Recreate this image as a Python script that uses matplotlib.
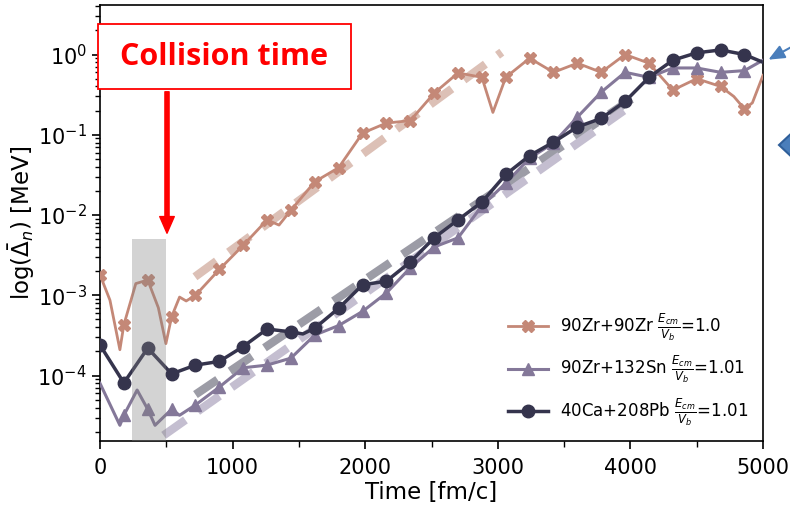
import matplotlib.pyplot as plt
import numpy as np
from matplotlib.patches import Rectangle, Polygon, FancyArrowPatch

# ---- data ----
# 90Zr+90Zr
t_zrzr = [0, 75, 150, 180, 270, 360, 440, 497, 540, 600, 650, 720, 900, 1080, 1260,
          1350, 1440, 1620, 1800, 1980, 2160, 2340, 2520, 2700, 2880, 2963, 3060, 3240,
          3420, 3600, 3780, 3960, 4140, 4320, 4500, 4680, 4780, 4860, 4920, 5000]
v_zrzr = [1.8e-3, 8.7e-4, 2.1e-4, 4.3e-4, 1.4e-3, 1.55e-3, 7e-4, 2.5e-4, 5.4e-4, 9.5e-4,
          8.5e-4, 1.0e-3, 2.1e-3, 4.2e-3, 8.7e-3, 7.5e-3, 1.15e-2, 2.6e-2, 3.9e-2, 0.105,
          0.14, 0.15, 0.33, 0.59, 0.52, 0.19, 0.52, 0.9, 0.6, 0.78, 0.6, 1.0, 0.78, 0.36,
          0.5, 0.4, 0.3, 0.21, 0.25, 0.55]
m_zrzr = [0, 3, 5, 8, 11, 12, 13, 14, 16, 17, 18, 19, 20, 21, 22, 23, 24, 26, 27, 28,
          29, 30, 31, 32, 33, 34, 35, 37]

# 90Zr+132Sn
t_zrsn = [0, 150, 180, 280, 360, 415, 540, 600, 720, 900, 1080, 1260, 1440, 1620, 1800,
          1980, 2160, 2340, 2520, 2700, 2880, 3060, 3240, 3420, 3600, 3780, 3960, 4140,
          4320, 4500, 4680, 4860, 5000]
v_zrsn = [8e-5, 2.4e-5, 3.2e-5, 6.6e-5, 3.8e-5, 2.4e-5, 3.8e-5, 3.2e-5, 4.3e-5, 7.2e-5,
          1.25e-4, 1.35e-4, 1.65e-4, 3.2e-4, 4.2e-4, 6.3e-4, 1.07e-3, 2.2e-3, 4.0e-3,
          5.2e-3, 1.3e-2, 2.5e-2, 5.1e-2, 7.9e-2, 0.166, 0.34, 0.6, 0.52, 0.68, 0.68,
          0.6, 0.63, 0.85]
m_zrsn = [2, 4, 6] + list(range(8, 32))

# 40Ca+208Pb
t_capb = [0, 180, 360, 540, 720, 900, 1080, 1260, 1440, 1530, 1620, 1800, 1980, 2160,
          2340, 2520, 2700, 2880, 3060, 3240, 3420, 3600, 3780, 3960, 4140, 4320, 4500,
          4680, 4860, 5000]
v_capb = [2.4e-4, 8.1e-5, 2.2e-4, 1.05e-4, 1.35e-4, 1.5e-4, 2.3e-4, 3.8e-4, 3.5e-4,
          3.3e-4, 3.9e-4, 6.9e-4, 1.35e-3, 1.5e-3, 2.6e-3, 5.2e-3, 8.7e-3, 1.45e-2,
          3.2e-2, 5.5e-2, 8.1e-2, 0.125, 0.16, 0.26, 0.52, 0.85, 1.05, 1.14, 1.0, 0.8]
m_capb = [0, 1, 2, 3, 4, 5, 6, 7, 8] + list(range(10, 29))

# exponential fits (end points)
fit_zrzr_t = [716, 3030]
fit_zrzr_v = [1.7e-3, 1.07]
fit_capb_t = [720, 4050]
fit_capb_v = [5.8e-5, 0.31]
fit_zrsn_t = [480, 3950]
fit_zrsn_v = [1.8e-5, 0.2]

labels = [r"90Zr+90Zr $\frac{E_{cm}}{V_b}$=1.0",
          r"90Zr+132Sn $\frac{E_{cm}}{V_b}$=1.01",
          r"40Ca+208Pb $\frac{E_{cm}}{V_b}$=1.01"]

c_zrzr = "#c48877"
c_zrsn = "#847899"
c_capb = "#35344d"

fig = plt.figure(figsize=(7.9, 5.07), dpi=100)
ax = fig.add_axes([100 / 790, 1 - 441 / 507, 663 / 790, 436 / 507])

# fits
ax.plot(fit_zrzr_t, fit_zrzr_v, color="#dcc0b6", lw=6, dashes=(3.2, 1.8), zorder=1,
        dash_capstyle="butt")
ax.plot(fit_capb_t, fit_capb_v, color="#9c9ca6", lw=6, dashes=(3.2, 1.8), zorder=1,
        dash_capstyle="butt")
ax.plot(fit_zrsn_t, fit_zrsn_v, color="#c4bed0", lw=6, dashes=(3.2, 1.8), zorder=1,
        dash_capstyle="butt")

ax.plot(t_zrzr, v_zrzr, color=c_zrzr, lw=2, marker="X", ms=8, markevery=m_zrzr,
        label=labels[0], zorder=3)
ax.plot(t_zrsn, v_zrsn, color=c_zrsn, lw=2.2, marker="^", ms=9, markevery=m_zrsn,
        label=labels[1], zorder=3)
ax.plot(t_capb, v_capb, color=c_capb, lw=2.5, marker="o", ms=9, markevery=m_capb,
        label=labels[2], zorder=3)

ax.set_yscale("log")
ax.set_xlim(0, 5000)
ax.set_ylim(1.53e-5, 4.14)
ax.set_xticks([0, 1000, 2000, 3000, 4000, 5000])
ax.set_xticks(np.arange(500, 5000, 1000), minor=True)

# gray collision window
ax.add_patch(Rectangle((240, 1.53e-5), 260, 5e-3 - 1.53e-5, color="#808080",
                       alpha=0.34, lw=0, zorder=5))

ax.tick_params(which="major", direction="out", length=6, width=1.2, labelsize=15)
ax.tick_params(which="minor", direction="out", length=3.5, width=1.0)
ax.tick_params(axis="x", which="minor", length=4)
ax.tick_params(axis="x", which="major", pad=6.5)
for s in ax.spines.values():
    s.set_linewidth(1.2)

ax.set_xlabel("Time [fm/c]", fontsize=16.5, labelpad=2)
ax.set_ylabel(r"log($\bar{\Delta}_n$) [MeV]", fontsize=16.5, labelpad=0)

ax.legend(loc="lower right", frameon=False, fontsize=12, numpoints=1,
          handlelength=2.4, handletextpad=0.7, labelspacing=0.67,
          bbox_to_anchor=(1.0, -0.005))

# slide annotations
fig.add_artist(Rectangle((98 / 790, 1 - 89 / 507), 253 / 790, 65 / 507,
                         transform=fig.transFigure, facecolor="white",
                         edgecolor="red", lw=1.3, zorder=10))
fig.text(224 / 790, 1 - 57 / 507, "Collision time", color="red", fontsize=22,
         fontweight="bold", family="Open Sans", ha="center", va="center", zorder=11)
fig.add_artist(FancyArrowPatch(
    (167 / 790, 1 - 89 / 507), (167 / 790, 1 - 236 / 507),
    transform=fig.transFigure, color="red", zorder=11,
    arrowstyle="simple,head_length=1.6,head_width=1.4,tail_width=0.4",
    mutation_scale=7.5))
fig.add_artist(FancyArrowPatch(
    (795 / 790, 1 - 45 / 507), (766 / 790, 1 - 61 / 507),
    transform=fig.transFigure, color="#4a7ebb", lw=1.5, zorder=11,
    arrowstyle="-|>,head_length=0.8,head_width=0.35", mutation_scale=12))
fig.add_artist(Polygon([(779 / 790, 1 - 145 / 507), (795 / 790, 1 - 130 / 507),
                        (811 / 790, 1 - 145 / 507), (795 / 790, 1 - 160 / 507)],
                       closed=True, transform=fig.transFigure, facecolor="#4a7ebb",
                       edgecolor="#2f5f9a", lw=1.5, zorder=11))

fig.savefig("out.png", dpi=100)
